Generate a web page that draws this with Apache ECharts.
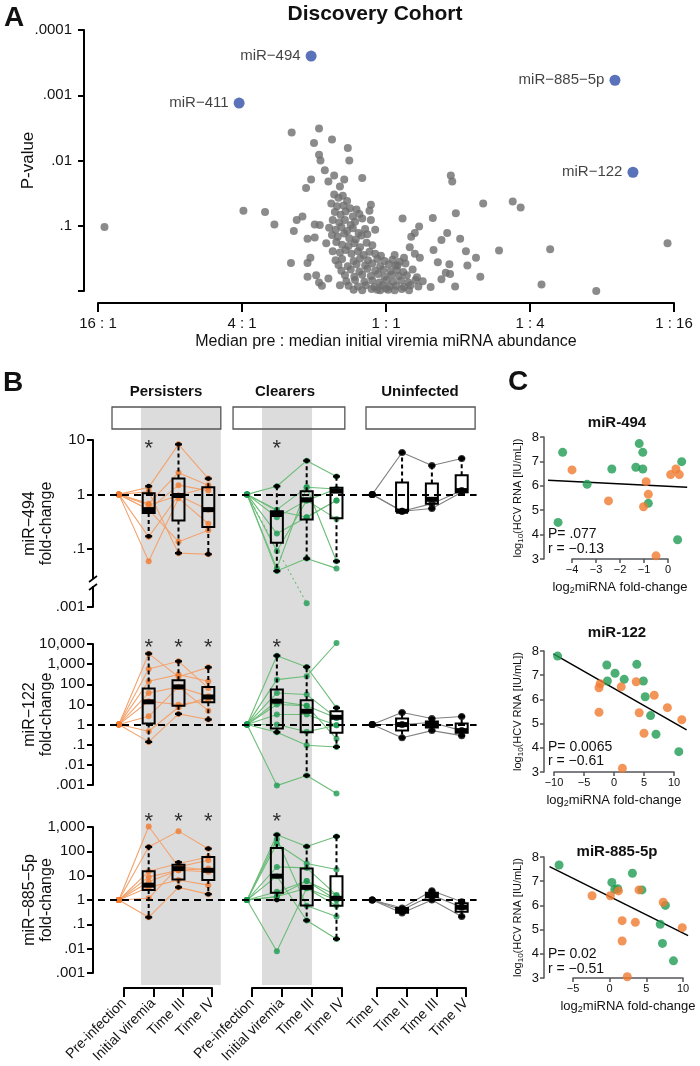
<!DOCTYPE html>
<html lang="en">
<head>
<meta charset="UTF-8">
<title>Discovery Cohort</title>
<style>html,body{margin:0;padding:0;background:#fff}</style>
</head>
<body>
<div id="main" style="width:700px;height:1066px;"></div>
<script src="https://cdn.jsdelivr.net/npm/echarts@6.0.0/dist/echarts.min.js"></script>
<script>
// ---------- Panel A: x = log2(initial / pre), y = -log10(P) ----------
var aXLabels = {'-4': '16 : 1', '-2': '4 : 1', '0': '1 : 1', '2': '1 : 4', '4': '1 : 16'};
var aYLabels = ['', '.1', '.01', '.001', '.0001'];
var aHighlight = [
  ['miR−494', -1.04, 3.60],
  ['miR−411', -2.04, 2.88],
  ['miR−885−5p', 3.18, 3.23],
  ['miR−122', 3.43, 1.82]
];
var aOther = [
  [-3.91,0.98],[-1.98,1.23],[-1.68,1.21],[-1.55,1.02],[-1.31,2.43],[-0.93,2.49],[-0.75,2.32],[-1.00,2.27],
  [-0.53,2.19],[-0.93,2.09],[-0.51,2.00],[-0.91,2.00],[-0.85,1.85],[-0.72,1.77],[-1.04,1.71],[-0.33,1.73],
  [-1.11,1.58],[-0.58,1.71],[-0.80,1.68],[-0.64,1.60],
  [0.90,1.77],[0.92,1.68],[1.35,1.34],[1.76,1.37],[1.87,1.28],[0.97,1.19],[0.65,1.12],[0.23,1.11],
  [0.46,0.99],[0.85,0.89],[1.03,0.80],[0.40,0.89],[0.35,0.83],[0.77,0.78],[0.33,0.67],[0.66,0.63],
  [1.11,0.61],[1.57,0.62],[2.28,0.64],[3.91,0.73],[1.25,0.51],[1.13,0.39],[0.88,0.41],[0.72,0.44],
  [1.31,0.22],[2.16,0.10],[2.92,0.00],[0.96,0.07],[0.62,0.06],[0.77,0.18],[0.83,0.28],[0.89,0.26],
  [0.25,0.51],[0.12,0.55],[0.13,0.39],[0.40,0.57],[0.47,0.51],
  [-1.24,1.09],[-1.16,1.14],[-1.28,0.92],[-1.09,0.80],[-0.99,0.82],[-0.99,1.02],[-0.92,1.01],[-1.32,0.43],
  [-1.09,0.43],[-1.05,0.51],[-1.09,0.22],[-0.97,0.24],[-0.93,0.13],[-0.89,0.08],[-0.64,0.09],[-0.80,0.19],
  [-0.21,1.32],[-0.23,1.23],[-0.21,1.09],[-0.15,0.94],
  [-0.72,1.48],[-0.66,1.43],[-0.60,1.46],[-0.54,1.38],[-0.76,1.34],[-0.68,1.30],[-0.59,1.31],[-0.50,1.27],
  [-0.71,1.21],[-0.63,1.17],[-0.56,1.22],[-0.46,1.14],[-0.41,1.25],[-0.37,1.18],[-0.74,1.09],[-0.65,1.05],
  [-0.57,1.09],[-0.49,1.01],[-0.43,1.06],[-0.33,1.11],[-0.79,0.97],[-0.70,0.94],[-0.62,0.98],[-0.54,0.92],
  [-0.46,0.96],[-0.38,0.89],[-0.29,0.95],[-0.75,0.86],[-0.67,0.83],[-0.58,0.88],[-0.51,0.81],[-0.42,0.79],
  [-0.34,0.85],[-0.26,0.87],[-0.83,0.73],[-0.69,0.75],[-0.61,0.71],[-0.52,0.69],[-0.44,0.73],[-0.36,0.67],
  [-0.27,0.74],[-0.19,0.70],[-0.74,0.61],[-0.64,0.59],[-0.56,0.63],[-0.48,0.57],[-0.39,0.61],[-0.31,0.55],
  [-0.23,0.60],[-0.15,0.57],[-0.07,0.54],
  [-0.70,0.47],[-0.61,0.49],[-0.45,0.46],[-0.36,0.50],[-0.25,0.47],[-0.12,0.49],[-0.02,0.46],[0.09,0.48],[0.19,0.45],
  [-0.66,0.40],[-0.53,0.38],[-0.41,0.41],[-0.29,0.39],[-0.19,0.42],[-0.08,0.38],[0.04,0.41],[0.16,0.39],[0.27,0.42],
  [-0.62,0.31],[-0.49,0.33],[-0.37,0.30],[-0.26,0.34],[-0.15,0.31],[-0.04,0.33],[0.06,0.30],[0.15,0.32],[0.24,0.29],[0.37,0.33],
  [-0.57,0.24],[-0.44,0.22],[-0.33,0.25],[-0.21,0.23],[-0.11,0.26],[-0.02,0.22],[0.08,0.25],[0.18,0.23],[0.29,0.24],[0.43,0.21],
  [-0.55,0.15],[-0.43,0.17],[-0.30,0.14],[-0.19,0.16],[-0.09,0.13],[0.01,0.17],[0.10,0.14],[0.21,0.16],[0.31,0.13],[0.41,0.17],[0.51,0.15],
  [-0.52,0.08],[-0.39,0.07],[-0.28,0.09],[-0.16,0.06],[-0.05,0.09],[0.05,0.07],[0.14,0.08],[0.25,0.06],[0.34,0.09],[0.45,0.07],
  [-0.45,0.02],[-0.33,0.01],[-0.20,0.03],[-0.08,0.01],[0.03,0.02],[0.12,0.01],[0.22,0.03],[0.32,0.01],[-0.12,0.02],[0.00,0.04]
];

// ---------- Panel B: log10 fold-change per subject [pre, initial/II, III, IV] ----------
var persTimes = ['Pre-infection', 'Initial viremia', 'Time III', 'Time IV'];
var clearTimes = ['Pre-infection', 'Initial viremia', 'Time III', 'Time IV'];
var uninfTimes = ['Time I', 'Time II', 'Time III', 'Time IV'];
var persX = [0, 1, 2, 3];
var clearX = [4.3, 5.3, 6.3, 7.3];
var uninfX = [8.5, 9.5, 10.5, 11.5];

// miR-494 (axis is broken below .1; the .001 tick sits at -2.07)
var r494Ticks = [1, 0, -1, -2.07];
var r494TickText = ['10', '1', '.1', '.001'];
var r494Pers = [[0,0.13,0.92,0.29],[0,-0.17,0.40,0.17],[0,-0.28,0.17,0.07],[0,-0.78,-0.02,-0.28],
  [0,-1.23,-0.07,-0.54],[0,-0.28,-0.87,-0.66],[0,0.05,-1.08,-1.10],[0,-0.20,-0.02,0.13]];
var r494Clear = [[0,0.15,0.62,0.33],[0,-0.28,0.13,0.10],[0,-0.42,-0.11,0.10],[0,-0.72,-0.42,-0.11],
  [0,-1.04,-0.11,-0.45],[0,-1.36,0.13,-1.23],[0,-1.41,-1.18,-1.36],[0,-0.30,-0.42,-0.11]];
var r494ClearBroken = [[0,null,-2.0,null]];
var r494Uninf = [[0,0.77,0.53,0.66],[0,-0.31,-0.26,0.04],[0,-0.31,-0.17,0.07]];
// boxes: [min, q1, median, q3, max] for the three later time points
var r494PersBox = [[-0.77,-0.34,-0.28,0.02,0.15],[-1.08,-0.48,-0.02,0.29,0.92],[-1.10,-0.60,-0.28,0.13,0.29]];
var r494ClearBox = [[-1.41,-0.89,-0.37,-0.31,0.15],[-1.18,-0.46,-0.10,0.06,0.62],[-1.23,-0.44,0.06,0.12,0.33]];
var r494UninfBox = [[-0.31,-0.31,-0.31,0.22,0.77],[-0.26,-0.17,-0.09,0.20,0.53],[0.04,0.04,0.07,0.35,0.66]];
var r494Stars = [[1,0.95],[5.3,0.95]];

// miR-122
var r122TickText = {'4':'10,000','3':'1,000','2':'100','1':'10','0':'1','-1':'.1','-2':'.01','-3':'.001'};
var r122Pers = [[0,3.52,2.37,2.84],[0,2.76,3.14,1.82],[0,2.15,2.48,2.15],[0,1.57,1.87,1.40],
  [0,1.16,0.99,1.19],[0,0.41,1.87,0.69],[0,-0.33,0.86,1.37],[0,-0.86,0.53,0.25]];
var r122Clear = [[0,3.42,2.86,0.83],[0,2.23,2.40,4.05],[0,1.57,1.49,0.33],[0,1.16,0.94,0.33],
  [0,0.50,0.50,-0.03],[0,0.00,-0.36,-0.03],[0,-0.38,-1.03,-1.11],[0,-3.03,-2.53,-3.42],[0,1.00,0.94,-0.71]];
var r122Uninf = [[0,0.60,0.30,0.40],[0,0.00,0.10,-0.30],[0,-0.65,-0.30,-0.55]];
var r122PersBox = [[-0.86,0.05,1.13,1.79,3.52],[0.53,0.94,1.87,2.20,3.14],[0.25,1.11,1.37,1.87,2.84]];
var r122ClearBox = [[-0.38,-0.20,1.16,1.74,3.42],[-2.53,-0.38,0.66,1.21,2.86],[-1.11,-0.41,0.36,0.66,0.83]];
var r122UninfBox = [[-0.65,-0.30,0.00,0.30,0.60],[-0.30,-0.15,0.00,0.15,0.30],[-0.55,-0.40,-0.30,0.05,0.40]];
var r122Stars = [[1,4.12],[2,4.12],[3,4.12],[5.3,4.12]];

// miR-885-5p
var r885TickText = {'3':'1,000','2':'100','1':'10','0':'1','-1':'.1','-2':'.01','-3':'.001'};
var r885Pers = [[0,3.02,1.36,1.63],[0,2.18,2.83,2.11],[0,1.18,1.50,1.77],[0,0.95,1.22,1.29],
  [0,0.75,1.22,1.16],[0,0.52,0.82,0.61],[0,0.07,1.36,1.22],[0,-0.71,0.52,0.24]];
var r885Clear = [[0,2.68,2.20,2.61],[0,2.31,1.50,1.25],[0,1.36,1.32,0.20],[0,0.34,0.78,0.00],
  [0,0.14,0.48,-0.24],[0,2.50,-0.24,-0.68],[0,0.98,-0.84,-1.60],[0,-2.11,0.48,0.00],[0,0.14,0.78,0.20]];
var r885Uninf = [[0,-0.33,0.38,-0.07],[0,-0.41,0.20,-0.30],[0,-0.53,0.00,-0.68]];
var r885PersBox = [[-0.71,0.41,0.61,1.18,2.18],[0.52,0.84,1.29,1.45,1.55],[0.24,0.82,1.22,1.77,2.11]];
var r885ClearBox = [[0.00,0.30,0.98,2.14,2.68],[-0.84,-0.23,0.52,1.29,2.20],[-1.60,-0.24,0.07,0.98,2.61]];
var r885UninfBox = [[-0.53,-0.52,-0.41,-0.33,-0.33],[0.00,0.11,0.20,0.30,0.38],[-0.68,-0.48,-0.30,-0.13,-0.07]];
var r885Stars = [[1,3.47],[2,3.47],[3,3.47],[5.3,3.47]];

// ---------- Panel C: [log2 fold-change, log10 HCV RNA] ----------
var c494Clear = [[-4.39,7.37],[-4.58,4.50],[-3.37,6.06],[-2.34,6.69],[-1.20,7.73],[-1.05,7.37],[-1.34,6.76],[-1.05,6.69],[-0.82,5.28],[0.57,6.99],[0.40,3.79]];
var c494Pers = [[-4.00,6.65],[-2.48,5.38],[-0.91,6.17],[-0.82,5.65],[-1.02,5.14],[-0.50,3.13],[0.11,6.46],[0.33,6.69],[0.47,6.46]];
var c494Fit = [-5.0, 6.23, 0.8, 5.94];
var c122Clear = [[-9.4,7.79],[-1.2,7.42],[-1.1,6.76],[0.17,7.08],[1.7,6.83],[3.8,7.45],[4.9,6.76],[5.2,6.11],[6.1,5.33],[7.0,4.56],[10.8,3.84]];
var c122Pers = [[-2.3,6.65],[-2.5,6.48],[-2.5,5.47],[1.2,6.52],[3.7,6.73],[4.2,5.45],[5.0,4.60],[6.7,6.17],[8.9,5.66],[11.3,5.16],[1.4,3.15]];
var c122Fit = [-10.1, 7.88, 12.1, 4.74];
var c885Clear = [[-6.9,7.67],[0.3,6.95],[0.7,6.66],[1.1,6.69],[3.1,7.33],[4.4,6.64],[7.6,6.00],[6.9,5.22],[7.2,4.43],[8.7,3.71]];
var c885Pers = [[-2.4,6.40],[0.1,6.40],[1.2,6.60],[4.0,6.64],[1.7,5.37],[3.5,5.30],[1.7,4.53],[7.3,6.13],[9.9,5.08],[2.4,3.05]];
var c885Fit = [-8.2, 7.6, 10.7, 4.75];
var cStats = [['P= .077', 'r = −0.13'], ['P= 0.0065', 'r = −0.61'], ['P= 0.02', 'r = −0.51']];

var FONT = '"Liberation Sans", Arial, sans-serif';
var ORANGE = '#f07a30', ORANGE_LINE = '#f3a36e';
var GREEN = '#1f9b52', GREEN_LINE = '#6cbd78';
var INK = '#111';

function txt(x, y, s, size, bold, align) {
  return {
    type: 'text', x: x, y: y, z: 100, silent: true,
    style: {
      text: s, fontSize: size, fontWeight: bold ? 'bold' : 'normal', fontFamily: FONT, fill: INK,
      align: align || 'center', verticalAlign: 'middle',
      textAlign: align || 'center', textVerticalAlign: 'middle'
    }
  };
}

function ax(o) {
  var base = {
    nameMoveOverlap: false,
    axisLine: {show: true, onZero: false, lineStyle: {color: '#000', width: 2}},
    axisTick: {show: true, length: 6, lineStyle: {color: '#000', width: 2}},
    axisLabel: {color: INK, fontFamily: FONT, fontSize: 15},
    splitLine: {show: false},
    nameTextStyle: {color: INK, fontFamily: FONT}
  };
  for (var k in o) {
    if (base[k] && typeof o[k] === 'object' && !Array.isArray(o[k])) {
      for (var j in o[k]) base[k][j] = o[k][j];
    } else base[k] = o[k];
  }
  return base;
}
function hidden(i, min, max) { return {gridIndex: i, type: 'value', min: min, max: max, show: false}; }

var grids = [
  {left: 98, top: 30, width: 576, height: 261},
  {left: 98, top: 407, width: 378.6, height: 578},
  {left: 98, top: 407, width: 378.6, height: 22},
  {left: 98, top: 440, width: 378.6, height: 167},
  {left: 98, top: 644, width: 378.6, height: 141},
  {left: 98, top: 827, width: 378.6, height: 146},
  {left: 124, top: 980, width: 88, height: 8},
  {left: 252, top: 980, width: 90, height: 8},
  {left: 377, top: 980, width: 89, height: 8},
  {left: 572, top: 437, width: 96, height: 122},
  {left: 554, top: 651, width: 120, height: 121},
  {left: 573, top: 857, width: 110, height: 121}
];
grids.forEach(function (g) { g.outerBoundsMode = 'none'; g.containLabel = false; });

var xAxes = [], yAxes = [];
// A
xAxes.push(ax({gridIndex: 0, type: 'value', min: -4, max: 4, interval: 2, offset: 12,
  axisTick: {length: 9},
  axisLabel: {margin: 13, formatter: function (v) { return aXLabels[String(v)]; }},
  name: 'Median pre : median initial viremia miRNA abundance', nameLocation: 'middle', nameGap: 31,
  nameTextStyle: {fontSize: 16}}));
yAxes.push(ax({gridIndex: 0, type: 'value', min: 0, max: 4, interval: 1, offset: 14,
  axisLabel: {margin: 12, formatter: function (v) { return aYLabels[Math.round(v)]; }},
  name: 'P-value', nameLocation: 'middle', nameGap: 47, nameTextStyle: {fontSize: 17}}));
// B bands / header
xAxes.push(hidden(1, -0.7, 12)); yAxes.push(hidden(1, 0, 1));
xAxes.push(hidden(2, -0.7, 12)); yAxes.push(hidden(2, 0, 1));
// B rows
var rowName = {fontSize: 16, lineHeight: 17};
var rowGap = 38;
xAxes.push(hidden(3, -0.7, 12));
yAxes.push(ax({gridIndex: 3, type: 'value', min: -2.07, max: 1, offset: 5,
  axisTick: {customValues: r494Ticks},
  axisLabel: {margin: 8, customValues: r494Ticks, formatter: function (v) {
    for (var i = 0; i < r494Ticks.length; i++) if (Math.abs(r494Ticks[i] - v) < 0.01) return r494TickText[i];
    return ''; }},
  name: 'miR−494\nfold-change', nameLocation: 'middle', nameGap: rowGap, nameTextStyle: rowName}));
xAxes.push(hidden(4, -0.7, 12));
yAxes.push(ax({gridIndex: 4, type: 'value', min: -3, max: 4, interval: 1, offset: 5,
  axisLabel: {margin: 8, formatter: function (v) { return r122TickText[String(Math.round(v))]; }},
  name: 'miR−122\nfold-change', nameLocation: 'middle', nameGap: rowGap, nameTextStyle: rowName}));
xAxes.push(hidden(5, -0.7, 12));
yAxes.push(ax({gridIndex: 5, type: 'value', min: -3, max: 3, interval: 1, offset: 5,
  axisLabel: {margin: 8, formatter: function (v) { return r885TickText[String(Math.round(v))]; }},
  name: 'miR−885−5p\nfold-change', nameLocation: 'middle', nameGap: rowGap, nameTextStyle: rowName}));
// B time labels
[persTimes, clearTimes, uninfTimes].forEach(function (labels, i) {
  xAxes.push(ax({gridIndex: 6 + i, type: 'category', data: labels, boundaryGap: false,
    axisTick: {length: 9, interval: 0},
    axisLabel: {rotate: 45, fontSize: 14, margin: 13, interval: 0, hideOverlap: false}}));
  yAxes.push(hidden(6 + i, 0, 1));
});
// C
var cX = [[-4, 0, 1], [-10, 10, 5], [-5, 10, 5]];
var cOff = [28, 10, 29];
cX.forEach(function (r, i) {
  xAxes.push(ax({gridIndex: 9 + i, type: 'value', min: r[0], max: r[1], interval: r[2],
    axisLine: {lineStyle: {width: 1.5}}, axisTick: {length: 4, lineStyle: {width: 1.5}},
    axisLabel: {fontSize: 11, margin: 5, formatter: function (v) { return String(v).replace('-', '−'); }},
    name: '{n|log}{s|2}{n|miRNA fold-change}', nameLocation: 'middle', nameGap: 20,
    nameTextStyle: {fontSize: 13, rich: {n: {fontSize: 13, fontFamily: FONT, color: INK},
      s: {fontSize: 9, fontFamily: FONT, color: INK, padding: [7, 0, 0, 0]}}}}));
  yAxes.push(ax({gridIndex: 9 + i, type: 'value', min: 3, max: 8, interval: 1, offset: cOff[i],
    axisLine: {lineStyle: {width: 1.5}}, axisTick: {length: 4, lineStyle: {width: 1.5}},
    axisLabel: {fontSize: 13, margin: 5},
    name: '{n|log}{s|10}{n|(HCV RNA [IU/mL])}', nameLocation: 'middle', nameGap: 19,
    nameTextStyle: {fontSize: 11, rich: {n: {fontSize: 11, fontFamily: FONT, color: INK},
      s: {fontSize: 8, fontFamily: FONT, color: INK, padding: [6, 0, 0, 0]}}}}));
});

var series = [];
// A
series.push({type: 'scatter', xAxisIndex: 0, yAxisIndex: 0, data: aOther, symbolSize: 8,
  itemStyle: {color: '#6e6e6e'}, clip: false, silent: true});
series.push({type: 'scatter', xAxisIndex: 0, yAxisIndex: 0, symbolSize: 11, clip: false, silent: true,
  data: aHighlight.map(function (d) { return {name: d[0], value: [d[1], d[2]]}; }),
  itemStyle: {color: '#2f4fa7'},
  label: {show: true, position: 'left', distance: 5, formatter: '{b}', fontSize: 15, fontFamily: FONT, color: INK}});

// B gray bands and header boxes
series.push({type: 'scatter', xAxisIndex: 1, yAxisIndex: 1, data: [], z: 0, silent: true,
  markArea: {silent: true, itemStyle: {color: '#dcdcdd'},
    data: [[{xAxis: 0.74}, {xAxis: 3.42}], [{xAxis: 4.8}, {xAxis: 6.48}]]}});
series.push({type: 'scatter', xAxisIndex: 2, yAxisIndex: 2, data: [], z: 1, silent: true,
  markArea: {silent: true, itemStyle: {color: 'rgba(0,0,0,0)', borderColor: '#555', borderWidth: 1.3},
    data: [[{xAxis: -0.23}, {xAxis: 3.42}], [{xAxis: 3.83}, {xAxis: 7.58}], [{xAxis: 8.29}, {xAxis: 11.95}]]}});

function renderBox(params, api) {
  var x = api.value(0);
  var lo = api.coord([x, api.value(1)]), q1 = api.coord([x, api.value(2)]);
  var md = api.coord([x, api.value(3)]), q3 = api.coord([x, api.value(4)]);
  var hi = api.coord([x, api.value(5)]);
  var cx = lo[0], hw = 6, cw = 3.5;
  var dash = {stroke: '#000', lineWidth: 2, lineDash: [4, 3], fill: 'none'};
  var solid = {stroke: '#000', lineWidth: 2.2, fill: 'none'};
  var kids = [];
  if (lo[1] - q1[1] > 1) kids.push({type: 'line', shape: {x1: cx, y1: q1[1], x2: cx, y2: lo[1]}, style: dash});
  if (q3[1] - hi[1] > 1) kids.push({type: 'line', shape: {x1: cx, y1: q3[1], x2: cx, y2: hi[1]}, style: dash});
  [lo, hi].forEach(function (p) {
    kids.push({type: 'line', shape: {x1: cx - cw, y1: p[1], x2: cx + cw, y2: p[1]}, style: solid});
    kids.push({type: 'circle', shape: {cx: cx, cy: p[1], r: 2.4}, style: {fill: '#000'}});
  });
  kids.push({type: 'rect', shape: {x: cx - hw, y: q3[1], width: hw * 2, height: Math.max(q1[1] - q3[1], 1)},
    style: {fill: 'none', stroke: '#000', lineWidth: 2}});
  kids.push({type: 'rect', shape: {x: cx - hw, y: md[1] - 2.5, width: hw * 2, height: 5}, style: {fill: '#000'}});
  return {type: 'group', children: kids};
}

function renderFit(params, api) {
  var a = api.coord([api.value(0), api.value(1)]);
  var b = api.coord([api.value(2), api.value(3)]);
  return {type: 'line', shape: {x1: a[0], y1: a[1], x2: b[0], y2: b[1]},
    style: {stroke: '#000', lineWidth: 1.5}};
}

var rows = [
  {g: 3, groups: [[r494Pers, persX, r494PersBox], [r494Clear, clearX, r494ClearBox], [r494Uninf, uninfX, r494UninfBox]], stars: r494Stars, broken: r494ClearBroken},
  {g: 4, groups: [[r122Pers, persX, r122PersBox], [r122Clear, clearX, r122ClearBox], [r122Uninf, uninfX, r122UninfBox]], stars: r122Stars},
  {g: 5, groups: [[r885Pers, persX, r885PersBox], [r885Clear, clearX, r885ClearBox], [r885Uninf, uninfX, r885UninfBox]], stars: r885Stars}
];
var groupStyle = [[ORANGE, ORANGE_LINE, 6], [GREEN, GREEN_LINE, 6], ['#000', '#808080', 7]];

rows.forEach(function (row) {
  var g = row.g;
  row.groups.forEach(function (grp, gi) {
    var subjects = grp[0], xs = grp[1], st = groupStyle[gi];
    subjects.forEach(function (s) {
      var pts = [];
      s.forEach(function (v, i) { if (v !== null) pts.push([xs[i], v]); });
      series.push({type: 'line', xAxisIndex: g, yAxisIndex: g, data: pts, showSymbol: false, silent: true,
        clip: false, z: 3, lineStyle: {color: st[1], width: 1.1}});
    });
  });
  if (row.broken) {
    row.broken.forEach(function (s) {
      var pts = [];
      s.forEach(function (v, i) { if (v !== null) pts.push([clearX[i], v]); });
      series.push({type: 'line', xAxisIndex: g, yAxisIndex: g, data: pts, showSymbol: false, silent: true,
        clip: false, z: 3, lineStyle: {color: GREEN_LINE, width: 1.1, type: [2, 3]}});
    });
  }
  row.groups.forEach(function (grp, gi) {
    var subjects = grp[0], xs = grp[1], st = groupStyle[gi];
    var dots = [];
    subjects.forEach(function (s) { s.forEach(function (v, i) { if (v !== null) dots.push([xs[i], v]); }); });
    if (gi === 1 && row.broken) row.broken.forEach(function (s) {
      s.forEach(function (v, i) { if (v !== null && i > 0) dots.push([xs[i], v]); });
    });
    var ser = {type: 'scatter', xAxisIndex: g, yAxisIndex: g, data: dots, symbolSize: st[2], clip: false,
      silent: true, z: 4, itemStyle: {color: st[0]}};
    if (gi === 0) ser.markLine = {silent: true, symbol: 'none', label: {show: false}, data: [{yAxis: 0}],
      lineStyle: {color: '#000', width: 2, type: [7, 5]}};
    series.push(ser);
  });
  row.groups.forEach(function (grp) {
    var xs = grp[1];
    series.push({type: 'custom', xAxisIndex: g, yAxisIndex: g, renderItem: renderBox, silent: true, z: 5,
      encode: {x: 0, y: [1, 2, 3, 4, 5]},
      data: grp[2].map(function (b, i) { return [xs[i + 1]].concat(b); })});
  });
  series.push({type: 'scatter', xAxisIndex: g, yAxisIndex: g, data: row.stars, symbolSize: 1, clip: false,
    silent: true, z: 6, itemStyle: {color: 'rgba(0,0,0,0)'},
    label: {show: true, position: 'inside', formatter: '*', fontSize: 22, fontFamily: FONT, color: '#000', offset: [0, 6]}});
});

// C
[[c494Clear, c494Pers, c494Fit], [c122Clear, c122Pers, c122Fit], [c885Clear, c885Pers, c885Fit]].forEach(function (p, i) {
  var g = 9 + i;
  series.push({type: 'custom', xAxisIndex: g, yAxisIndex: g, renderItem: renderFit, silent: true, z: 3,
    clip: false, encode: {x: [0, 2], y: [1, 3]}, data: [p[2]]});
  series.push({type: 'scatter', xAxisIndex: g, yAxisIndex: g, data: p[0], symbolSize: 9, clip: false, silent: true,
    z: 4, itemStyle: {color: GREEN}});
  series.push({type: 'scatter', xAxisIndex: g, yAxisIndex: g, data: p[1], symbolSize: 9, clip: false, silent: true,
    z: 4, itemStyle: {color: ORANGE}});
});

var graphics = [
  txt(14, 18, 'A', 28, true),
  txt(375, 14, 'Discovery Cohort', 21, true),
  txt(13, 383, 'B', 28, true),
  txt(518, 382, 'C', 28, true),
  txt(166, 392, 'Persisters', 15, true),
  txt(285, 392, 'Clearers', 15, true),
  txt(420, 392, 'Uninfected', 15, true),
  txt(617, 423, 'miR-494', 15, true),
  txt(617, 633, 'miR-122', 15, true),
  txt(617, 852, 'miR-885-5p', 15, true),
  // axis break on the miR-494 axis
  {type: 'rect', z: 100, silent: true, shape: {x: 87, y: 579, width: 12, height: 7}, style: {fill: '#fff'}},
  {type: 'line', z: 101, silent: true, shape: {x1: 89, y1: 582, x2: 97, y2: 576}, style: {stroke: '#000', lineWidth: 1.6}},
  {type: 'line', z: 101, silent: true, shape: {x1: 89, y1: 590, x2: 97, y2: 584}, style: {stroke: '#000', lineWidth: 1.6}}
];
var statY = [[534, 549], [747, 761], [954, 969]];
cStats.forEach(function (s, i) {
  graphics.push(txt(548, statY[i][0], s[0], 14, false, 'left'));
  graphics.push(txt(548, statY[i][1], s[1], 14, false, 'left'));
});

var option = {
  animation: false,
  backgroundColor: '#fff',
  textStyle: {fontFamily: FONT},
  grid: grids,
  xAxis: xAxes,
  yAxis: yAxes,
  series: series,
  graphic: graphics
};

var myChart = echarts.init(document.getElementById('main'), null, {renderer: 'canvas'});
myChart.setOption(option);
window.onresize = function () { myChart.resize(); };
</script>
</body>
</html>
